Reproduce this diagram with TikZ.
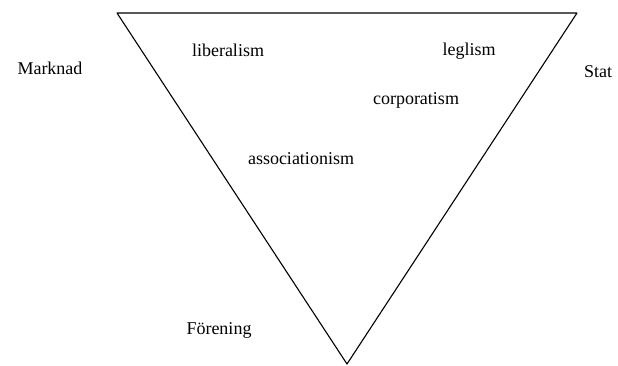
\documentclass[tikz,border=0pt]{standalone}
\usepackage{fontspec}
\setmainfont{Liberation Serif}

\begin{document}
\begin{tikzpicture}[x=1pt,y=1pt,line cap=round,line join=round]
    \tikzset{lbl/.style={font=\fontsize{18}{21}\selectfont,inner sep=0pt}}
    \useasboundingbox (0,0) rectangle (618,365);

    % Triangel
    \coordinate (tl) at (117,352);
    \coordinate (tr) at (577,352);
    \coordinate (bt) at (347,1);
    \draw[line width=1.1pt] (tl) -- (tr) -- (bt) -- cycle;

    % Hörn
    \node[lbl] (marknad) at (50,297) {Marknad};
    \node[lbl] (stat) at (598,293) {Stat};
    \node[lbl] (forening) at (219,35) {Förening};

    % Inne i triangeln
    \node[lbl] (liberalism) at (228,315) {liberalism};
    \node[lbl] (leglism) at (469,314) {leglism};
    \node[lbl] (corporatism) at (416,265) {corporatism};
    \node[lbl] (associationism) at (301,206) {associationism};
\end{tikzpicture}
\end{document}
